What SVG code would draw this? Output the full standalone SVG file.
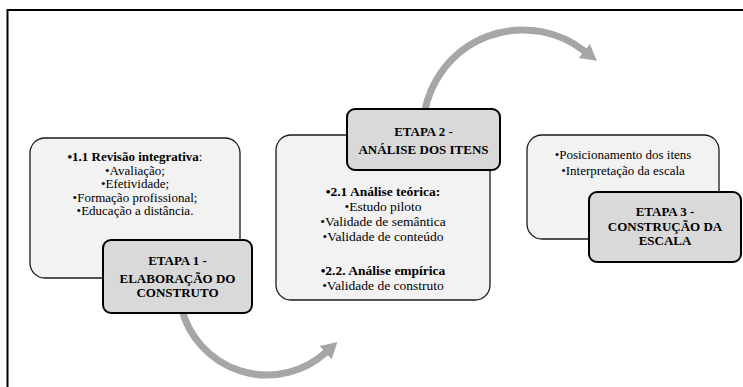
<svg xmlns="http://www.w3.org/2000/svg" width="743" height="387" viewBox="0 0 743 387">
<style>
.lt{fill:#f2f2f2;stroke:#1a1a1a;stroke-width:1.3}
.dk{fill:#d9d9d9;stroke:#000;stroke-width:2}
text{font-family:'Liberation Serif',serif;font-size:13px;fill:#000;text-anchor:middle}
.m{font-size:13.5px}
.b{font-weight:bold}
.arc{fill:none;stroke:#a6a6a6;stroke-width:7}
</style>
<defs>
<marker id="ah" markerUnits="userSpaceOnUse" viewBox="0 0 16 18" refX="0.5" refY="9" markerWidth="16" markerHeight="18" orient="auto">
<path d="M0,0 L16,9 L0,18 z" fill="#a6a6a6"/>
</marker>
</defs>
<rect x="0" y="0" width="743" height="387" fill="#fff"/>
<path d="M7.5,387 V10 H743" fill="none" stroke="#000" stroke-width="2"/>
<g id="connectors">
<path class="arc" d="M424.5,112.6 A100,100 0 0 1 584.6,51.2" marker-end="url(#ah)"/>
<path class="arc" d="M181.6,308.3 A88,88 0 0 0 325.9,352.4" marker-end="url(#ah)"/>
</g>
<g id="etapa1" font-family="Liberation Serif, serif">
<rect class="lt" x="30" y="138" width="210" height="140" rx="15"/>
<text x="135" y="161"><tspan class="b">•1.1 Revisão integrativa</tspan>:</text>
<text x="135" y="174.5">•Avaliação;</text>
<text x="135" y="188">•Efetividade;</text>
<text x="135" y="201.5">•Formação profissional;</text>
<text x="135" y="215">•Educação a distância.</text>
<rect class="dk" x="103" y="240" width="149" height="73" rx="8"/>
<text class="b" x="177.5" y="265">ETAPA 1 -</text>
<text class="b" x="177.5" y="283">ELABORAÇÃO DO</text>
<text class="b" x="177.5" y="297">CONSTRUTO</text>
</g>
<g id="etapa2" font-family="Liberation Serif, serif">
<rect class="lt" x="276" y="135" width="214" height="165" rx="15"/>
<text class="b m" x="383" y="196">•2.1 Análise teórica:</text>
<text class="m" x="383" y="211">•Estudo piloto</text>
<text class="m" x="383" y="226">•Validade de semântica</text>
<text class="m" x="383" y="241">•Validade de conteúdo</text>
<text class="b m" x="383" y="275">•2.2. Análise empírica</text>
<text class="m" x="383" y="290">•Validade de construto</text>
<rect class="dk" x="347" y="109" width="153" height="61" rx="8"/>
<text class="b" x="423.5" y="136">ETAPA 2 -</text>
<text class="b" x="423.5" y="154">ANÁLISE DOS ITENS</text>
</g>
<g id="etapa3" font-family="Liberation Serif, serif">
<rect class="lt" x="527" y="135" width="192" height="104" rx="15"/>
<text x="623" y="159">•Posicionamento dos itens</text>
<text x="623" y="175">•Interpretação da escala</text>
<rect class="dk" x="589" y="192" width="152" height="70" rx="8"/>
<text class="b" x="665" y="216">ETAPA 3 -</text>
<text class="b" x="665" y="231">CONSTRUÇÃO DA</text>
<text class="b" x="665" y="245">ESCALA</text>
</g>
</svg>
